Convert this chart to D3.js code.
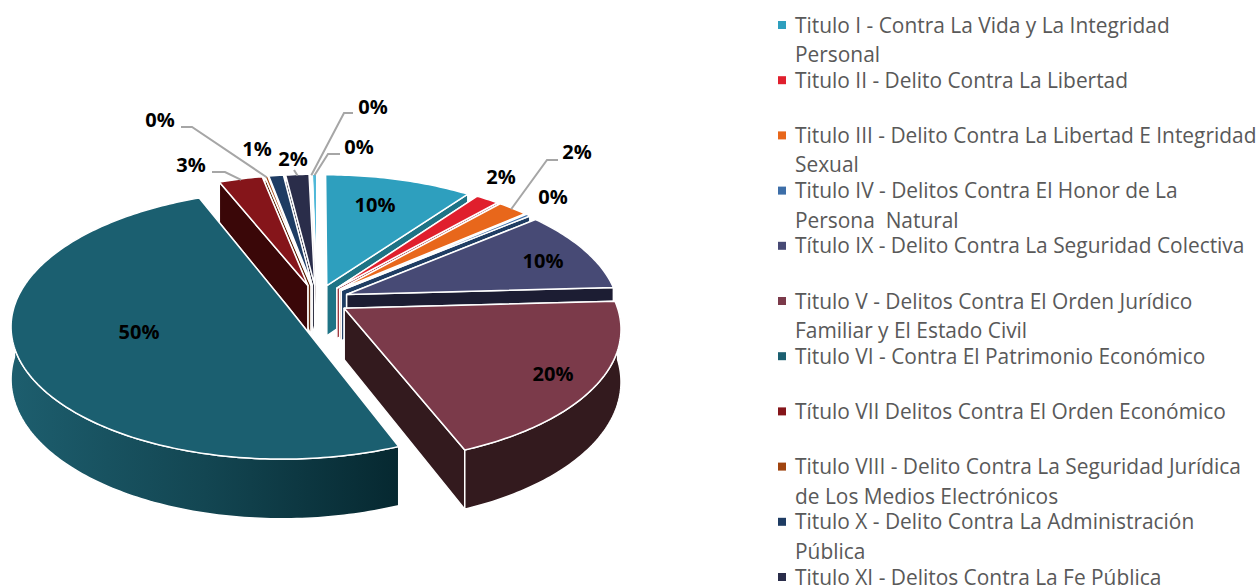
<!DOCTYPE html>
<html lang="es">
<head>
  <meta charset="UTF-8">
  <title>Delitos por Titulo</title>
  <script src="https://d3js.org/d3.v7.min.js"></script>
  <style>
    html, body { margin: 0; padding: 0; background: #fff; overflow: hidden; }
    svg { display: block; }
    .legend-text { font-family: "Open Sans", sans-serif; font-size: 20.9px; fill: #595959; white-space: pre; }
    .label { font-family: "Open Sans", sans-serif; font-size: 20px; font-weight: bold; fill: #000; text-anchor: middle; dominant-baseline: central; }
    .leader { fill: none; stroke: #a6a6a6; stroke-width: 2; }
  </style>
</head>
<body>
  <div id="chart"></div>
  <script>
    // order of the slices, clockwise from the top
    const series = ["I", "II", "III", "IV", "IX", "V", "VI", "VII", "VIII", "X", "XI", "XII", "XIII"];
    const values = [10.1, 1.6, 2.1, 0.3, 10.1, 19.9, 50, 3, 0.2, 1, 1.6, 0.1, 0.3];
    const colors = ["#2E9FBE", "#E01F2D", "#E8671B", "#3D6EA8", "#474A75", "#7B3A4A", "#1B5F70", "#85151A", "#A0440F", "#1E3C63", "#2A2D4A", "#8A6472", "#4FB8D8"];
    const wallColors = ["#1E7385", "#8E141D", "#943F10", "#1F3D63", "#1C1D33", "#331A1E", "url(#wallVI)", "#3A0708", "#5E280A", "#12253E", "#1A1B2E", "#5A4049", "#2F7A90"];

    const legendLines = [
      ["Titulo I - Contra La Vida y La Integridad", "Personal"],
      ["Titulo II - Delito Contra La Libertad"],
      ["Titulo III - Delito Contra La Libertad E Integridad", "Sexual"],
      ["Titulo IV - Delitos Contra El Honor de La", "Persona  Natural"],
      ["Título IX - Delito Contra La Seguridad Colectiva"],
      ["Titulo V - Delitos Contra El Orden Jurídico", "Familiar y El Estado Civil"],
      ["Titulo VI - Contra El Patrimonio Económico"],
      ["Título VII Delitos Contra El Orden Económico"],
      ["Titulo VIII - Delito Contra La Seguridad Jurídica", "de Los Medios Electrónicos"],
      ["Titulo X - Delito Contra La Administración", "Pública"],
      ["Titulo XI - Delitos Contra La Fe Pública"]
    ];

    const width = 1259, height = 586;
    const cx = 317, cy = 300;      // centre of the pie
    const R = 271;                 // radius
    const tilt = 0.48;             // squash of the ellipse
    const persp = 0.14;            // nearer part is drawn bigger
    const explode = 32;            // every slice is pulled out by this
    const depth = 51;              // height of the walls

    const svg = d3.select("#chart").append("svg")
      .attr("width", width)
      .attr("height", height);

    const grad = svg.append("defs").append("linearGradient")
      .attr("id", "wallVI")
      .attr("gradientUnits", "userSpaceOnUse")
      .attr("x1", 10).attr("x2", 400).attr("y1", 0).attr("y2", 0);
    grad.append("stop").attr("offset", "0%").attr("stop-color", "#1D5E6E");
    grad.append("stop").attr("offset", "50%").attr("stop-color", "#134652");
    grad.append("stop").attr("offset", "100%").attr("stop-color", "#062830");

    const pie = d3.pie().sort(null).value(d => d);
    const arcs = pie(values).map((d, i) => ({
      ...d,
      i: i,
      mid: (d.startAngle + d.endAngle) / 2
    }));

    // polar point of a slice -> screen, z goes down the wall
    function project(d, angle, r, z) {
      const X = Math.sin(angle) * r + Math.sin(d.mid) * explode;
      const Y = -Math.cos(angle) * r - Math.cos(d.mid) * explode;
      const s = 1 / (1 - persp * Y / R);
      return [cx + X * s, cy + (Y * tilt + z) * s];
    }

    const line = d3.line();

    function rim(d, z, from, to) {
      const n = Math.max(2, Math.ceil((to - from) * 60));
      const a = d3.scaleLinear().domain([0, n]).range([from, to]);
      return d3.range(n + 1).map(k => project(d, a(k), R, z));
    }

    // back slices first, so the near ones cover them
    const order = d3.sort(arcs, d => project(d, d.mid, R * 0.5, 0)[1]);

    const slices = svg.selectAll(".slice")
      .data(order)
      .enter()
      .append("g")
      .attr("class", "slice");

    const wallStyle = sel => sel
      .attr("fill", d => wallColors[d.i])
      .attr("stroke", "#fff")
      .attr("stroke-width", 1.5)
      .attr("stroke-linejoin", "round");

    // the two radial walls, the hidden side goes first
    const hiddenSide = d => d.mid < Math.PI ? d.startAngle : d.endAngle;
    const shownSide = d => d.mid < Math.PI ? d.endAngle : d.startAngle;
    [hiddenSide, shownSide].forEach(side => {
      slices.append("path")
        .attr("d", d => line([
          project(d, 0, 0, 0),
          project(d, side(d), R, 0),
          project(d, side(d), R, depth),
          project(d, 0, 0, depth)
        ]) + "Z")
        .call(wallStyle);
    });

    // outer wall, only the part that faces the viewer
    slices.filter(d => d.endAngle > Math.PI / 2 && d.startAngle < Math.PI * 1.5)
      .append("path")
      .attr("d", d => {
        const from = Math.max(d.startAngle, Math.PI / 2);
        const to = Math.min(d.endAngle, Math.PI * 1.5);
        return line(rim(d, 0, from, to).concat(rim(d, depth, from, to).reverse())) + "Z";
      })
      .call(wallStyle);

    // top face
    slices.append("path")
      .attr("d", d => line([project(d, 0, 0, 0)].concat(rim(d, 0, d.startAngle, d.endAngle))) + "Z")
      .attr("fill", d => colors[d.i])
      .attr("stroke", "#fff")
      .attr("stroke-width", 1.5)
      .attr("stroke-linejoin", "round");

    // data labels, placed by hand like the original
    const labelX = [375, 501, 577, 553, 543, 553, 139, 191, 160, 257, 293, 373, 359];
    const labelY = [204, 176, 151, 196, 260, 373, 331, 164, 119, 148, 158, 106, 146];
    const leaderLines = {
      2: [[547, 160], [558, 160]],
      7: [[225, 172], [212, 172]],
      8: [[192, 127], [181, 127]],
      10: [[294, 170]],
      11: [[344, 113], [353, 113]],
      12: [[328, 154], [340, 154]]
    };

    Object.keys(leaderLines).forEach(k => {
      const d = arcs[+k];
      svg.append("path")
        .attr("class", "leader")
        .attr("d", line([project(d, d.mid, R * 0.99, 0)].concat(leaderLines[k])));
    });

    svg.selectAll(".label")
      .data(arcs)
      .enter()
      .append("text")
      .attr("class", "label")
      .attr("x", d => labelX[d.i])
      .attr("y", d => labelY[d.i])
      .text(d => d3.format(".0%")(d.value / d3.sum(values)));

    // legend
    const legendY = d3.scaleLinear().domain([0, 10]).range([25, 577]);
    const legendColors = colors.slice(0, legendLines.length);

    const legend = svg.selectAll(".legend")
      .data(legendLines)
      .enter()
      .append("g")
      .attr("class", "legend")
      .attr("transform", (d, i) => `translate(778, ${legendY(i)})`);

    legend.append("rect")
      .attr("y", -4)
      .attr("width", 8)
      .attr("height", 8)
      .attr("fill", (d, i) => legendColors[i]);

    legend.selectAll("text")
      .data(d => d)
      .enter()
      .append("text")
      .attr("class", "legend-text")
      .attr("x", 17)
      .attr("y", (d, i) => i * 29.5 + 7.5)
      .text(d => d);
  </script>
</body>
</html>
